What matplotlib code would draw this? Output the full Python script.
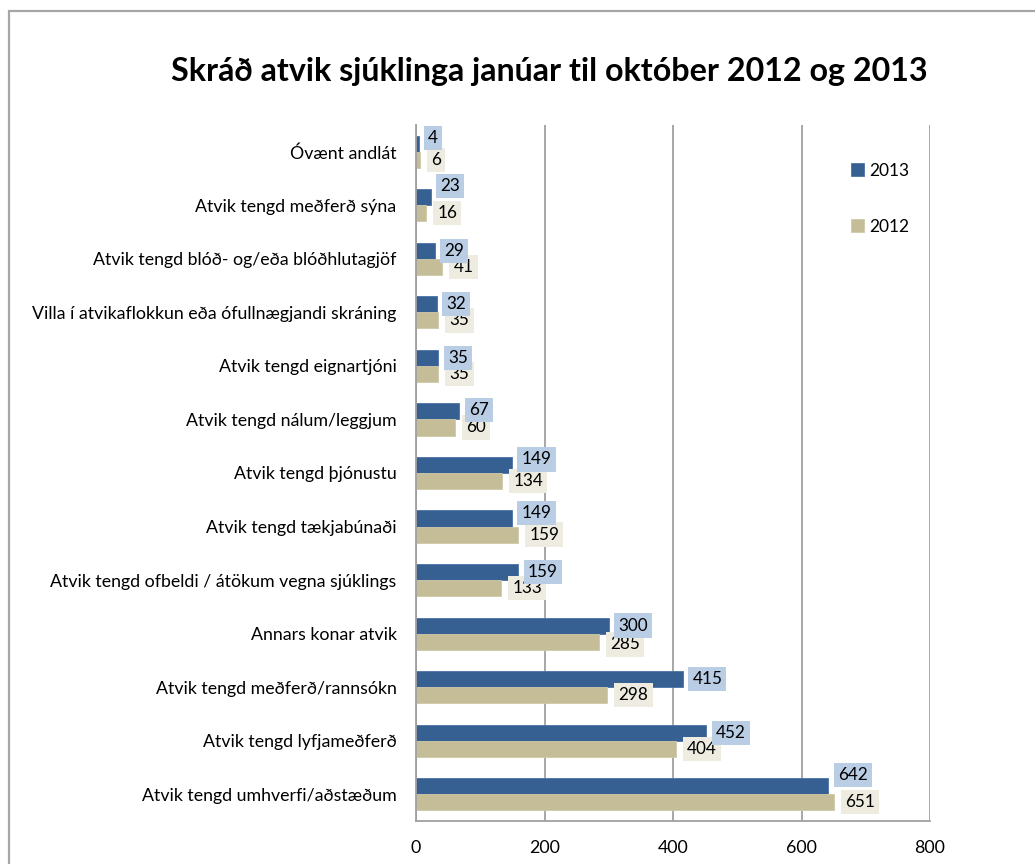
import matplotlib
matplotlib.use("Agg")
import matplotlib.pyplot as plt
from matplotlib.patches import Rectangle
import numpy as np

plt.rcParams['font.family'] = ['Lato', 'DejaVu Sans']

categories = [
    "Óvænt andlát",
    "Atvik tengd meðferð sýna",
    "Atvik tengd blóð- og/eða blóðhlutagjöf",
    "Villa í atvikaflokkun eða ófullnægjandi skráning",
    "Atvik tengd eignartjóni",
    "Atvik tengd nálum/leggjum",
    "Atvik tengd þjónustu",
    "Atvik tengd tækjabúnaði",
    "Atvik tengd ofbeldi / átökum vegna sjúklings",
    "Annars konar atvik",
    "Atvik tengd meðferð/rannsókn",
    "Atvik tengd lyfjameðferð",
    "Atvik tengd umhverfi/aðstæðum",
]
values_2013 = [4, 23, 29, 32, 35, 67, 149, 149, 159, 300, 415, 452, 642]
values_2012 = [6, 16, 41, 35, 35, 60, 134, 159, 133, 285, 298, 404, 651]
x_ticks = [0, 200, 400, 600, 800]
title = "Skráð atvik sjúklinga janúar til október 2012 og 2013"

# label vertical nudges (points), purely presentational
nudge_2013 = [4, 8, 0, 0, 0, 1, 4, 4, 0, 0, 0, 0, 8]
nudge_2012 = [0, 0, 0, 0, 0, 0, 0, 0, 0, -2, 0, 0, 0]

c13 = "#376092"
c12 = "#C4BD97"
box13 = "#B9CDE5"
box12 = "#EEECE1"

fig = plt.figure(figsize=(10.35, 8.64), dpi=100)
ax = fig.add_axes([416/1035, 1-821/864, 514/1035, (821-125)/864])

y = np.arange(len(categories))
h = 0.3
b13 = ax.barh(y - h/2, values_2013, height=h, color=c13, edgecolor="#4A72A6", linewidth=0.6, label="2013", zorder=2)
b12 = ax.barh(y + h/2, values_2012, height=h, color=c12, edgecolor="#CFC9A8", linewidth=0.6, label="2012", zorder=2)

ax.set_xlim(0, 800)
ax.set_ylim(len(categories) - 0.5, -0.5)
ax.set_xticks(x_ticks)
ax.set_xticklabels([str(t) for t in x_ticks], fontsize=12.8)
ax.set_yticks(y)
ax.set_yticklabels(categories, fontsize=12.8)
ax.tick_params(axis='both', length=0)
ax.tick_params(axis='y', pad=14)
ax.tick_params(axis='x', pad=14)
ax.grid(axis='x', color="#A0A0A0", linewidth=1.3, zorder=0)
ax.set_axisbelow(True)
for s in ['top', 'right']:
    ax.spines[s].set_visible(False)
for s in ['left', 'bottom']:
    ax.spines[s].set_color("#A0A0A0")
    ax.spines[s].set_linewidth(1.3)

for i, v in enumerate(values_2012):
    ax.annotate(str(v), xy=(v, i + h/2), xytext=(8, nudge_2012[i]), textcoords="offset points",
                ha="left", va="center", fontsize=12.3, zorder=5,
                bbox=dict(boxstyle="square,pad=0.24", fc=box12, ec="none"))
for i, v in enumerate(values_2013):
    ax.annotate(str(v), xy=(v, i - h/2), xytext=(7, nudge_2013[i]), textcoords="offset points",
                ha="left", va="center", fontsize=12.3, zorder=6,
                bbox=dict(boxstyle="square,pad=0.24", fc=box13, ec="none"))

fig.text(549/1035, 1-72/864, title, ha="center", va="center", fontsize=23.2, fontweight="bold")

leg = ax.legend(handles=[b13, b12], loc="upper left", bbox_to_anchor=(835/1035, 1-147/864),
                bbox_transform=fig.transFigure, frameon=False, fontsize=12.5,
                handlelength=0.75, handleheight=0.75, handletextpad=0.3, labelspacing=2.3)

fig.add_artist(Rectangle((8.5/1035, -0.1), 2, 0.1 + 1 - 11.5/864, transform=fig.transFigure,
                         fill=False, edgecolor="#A6A6A6", linewidth=1.6))

fig.savefig("out.png", dpi=100)
